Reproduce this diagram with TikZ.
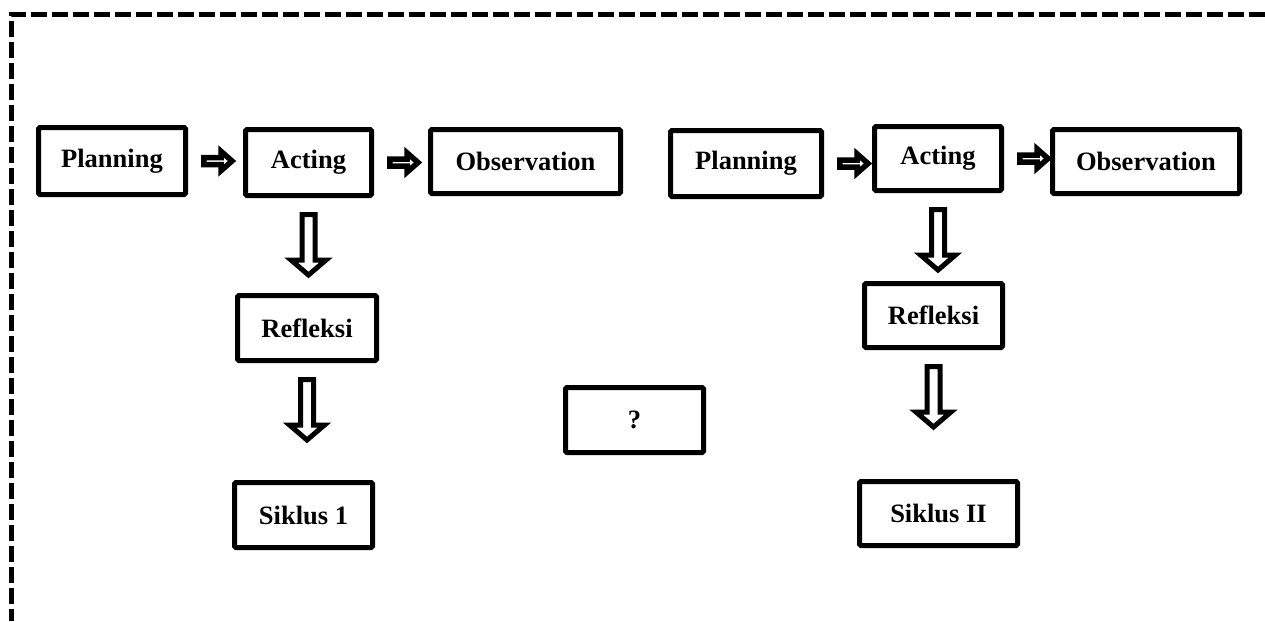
\documentclass[tikz,border=0pt]{standalone}
\usepackage{fontspec}
\setmainfont{Liberation Serif}
\usetikzlibrary{calc}
\begin{document}
\begin{tikzpicture}[x=1pt,y=-1pt,
  box/.style={draw, line width=5pt, rounded corners=1.5pt, fill=white,
    inner sep=0pt, font=\fontsize{26.5}{30}\selectfont\bfseries},
  harrow/.style={line width=5.5pt, fill=white, line join=miter,
    to path={let \p1=(\tikztostart), \n1={\x1+15.75pt}, \n2={\x1+33.2pt}, \n3={\x1+44pt} in
      (\n1,\y1+3.5pt) -- (\n2,\y1+3.5pt) -- (\n2,\y1+9.5pt) -- (\n3,\y1) --
      (\n2,\y1-9.5pt) -- (\n2,\y1-3.5pt) -- (\n1,\y1-3.5pt) -- cycle}},
  varrow/.style={line width=5pt, fill=white, line join=miter,
    to path={let \p1=(\tikztostart), \n1={\y1-16.5pt}, \n2={\y1-62pt}, \n3={\y1-77pt} in
      (\x1-6.5pt,\n1) -- (\x1-6.5pt,\n2) -- (\x1-17.5pt,\n2) -- (\x1,\n3) --
      (\x1+17.5pt,\n2) -- (\x1+6.5pt,\n2) -- (\x1+6.5pt,\n1) -- cycle}},
  border/.style={line width=5pt, dash pattern=on 16pt off 5pt}
]
\useasboundingbox (0,0) rectangle (1265,621);
\fill[white] (0,0) rectangle (1265,621);

% dashed frame (only top and left edges are visible)
\coordinate (fc) at (11.5,14.5);
\coordinate (fr) at (1265,14.5);
\coordinate (fb) at (11.5,621);
\draw[border] (fr) -- (fc) -- (fb);

% cycle I
\node[box, minimum width=147pt, minimum height=67pt] (p1) at (112,161) {Planning};
\node[box, minimum width=126pt, minimum height=66pt] (a1) at (308.5,162.5) {Acting};
\node[box, minimum width=190pt, minimum height=64pt] (o1) at (525.5,161.5) {Observation};
\node[box, minimum width=139pt, minimum height=65pt] (r1) at (307,328) {Refleksi};
\node[box, minimum width=138pt, minimum height=65pt] (s1) at (303.5,515) {Siklus 1};

% middle
\node[box, minimum width=138pt, minimum height=65pt] (q) at (634.5,420) {?};

% cycle II
\node[box, minimum width=151pt, minimum height=66pt] (p2) at (746,163.5) {Planning};
\node[box, minimum width=127pt, minimum height=64pt] (a2) at (938,158.5) {Acting};
\node[box, minimum width=187pt, minimum height=64pt] (o2) at (1146,161.5) {Observation};
\node[box, minimum width=138pt, minimum height=64pt] (r2) at (933.5,315.5) {Refleksi};
\node[box, minimum width=158pt, minimum height=64pt] (s2) at (938.5,513.5) {Siklus II};

% connectors
\draw[harrow] (p1.east) to (a1.west);
\draw[harrow] (a1.east) to (o1.west);
\draw[harrow] (p2.east) to (a2.west);
\draw[harrow] (a2.east) to (o2.west);
\draw[varrow] (a1.south) to (r1.north);
\draw[varrow] (r1.south) to (s1.north);
\draw[varrow] (a2.south) to (r2.north);
\draw[varrow] (r2.south) to (s2.north);
\end{tikzpicture}
\end{document}
